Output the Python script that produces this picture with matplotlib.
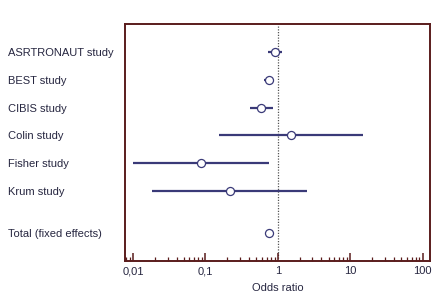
import numpy as np
import matplotlib
matplotlib.use("Agg")
import matplotlib.pyplot as plt
from matplotlib.ticker import LogLocator, NullFormatter

plt.rcParams['font.family'] = ['Liberation Sans', 'DejaVu Sans']

# data
studies = ["ASRTRONAUT study", "BEST study", "CIBIS study", "Colin study",
           "Fisher study", "Krum study", "Total (fixed effects)"]
odds = [0.92, 0.75, 0.59, 1.51, 0.088, 0.217, 0.76]
ci_low = [0.73, 0.65, 0.41, 0.155, 0.0101, 0.0184, 0.68]
ci_high = [1.14, 0.85, 0.85, 14.9, 0.76, 2.54, 0.85]
rows = [1, 2, 3, 4, 5, 6, 7.5]

xticks = [0.01, 0.1, 1, 10, 100]
xticklabels = ["0,01", "0,1", "1", "10", "100"]

FRAME = "#5a1c1c"
LINE = "#3a3a78"
TEXT = "#262640"

fig = plt.figure(figsize=(4.43, 3.04), dpi=100)
ax = fig.add_axes([0.2822, 0.1424, 0.6885, 0.7788])

ax.axvline(1, color="#555555", linestyle=(0, (1, 1.2)), linewidth=0.9, zorder=1)

for y, o, lo, hi in zip(rows, odds, ci_low, ci_high):
    ax.plot([lo, hi], [y, y], color=LINE, linewidth=1.6, zorder=2, solid_capstyle="butt")
    ax.plot([o], [y], marker="o", markersize=5.8, markerfacecolor="white",
            markeredgecolor=LINE, markeredgewidth=0.9, linestyle="none", zorder=3)

ax.set_xscale("log")
ax.set_xlim(10 ** -2.11, 10 ** 2.10)
ax.set_ylim(8.5, 0)

ax.set_xticks(xticks)
ax.set_xticklabels(xticklabels, fontsize=8, color=TEXT)
ax.xaxis.set_minor_locator(LogLocator(base=10, subs=np.arange(2, 10)))
ax.xaxis.set_minor_formatter(NullFormatter())
ax.tick_params(axis="x", which="major", direction="in", length=5.5, width=1.1,
               color=FRAME, pad=4)
ax.tick_params(axis="x", which="minor", direction="in", length=3, width=0.9,
               color=FRAME)

ax.set_yticks(rows)
ax.set_yticklabels(studies, fontsize=8, color=TEXT, ha="left")
ax.tick_params(axis="y", length=0, pad=84.2)

for sp in ax.spines.values():
    sp.set_color(FRAME)
    sp.set_linewidth(1.4)

ax.set_xlabel("Odds ratio", fontsize=8, color=TEXT, labelpad=4.5)

fig.savefig("out.png", dpi=100)
